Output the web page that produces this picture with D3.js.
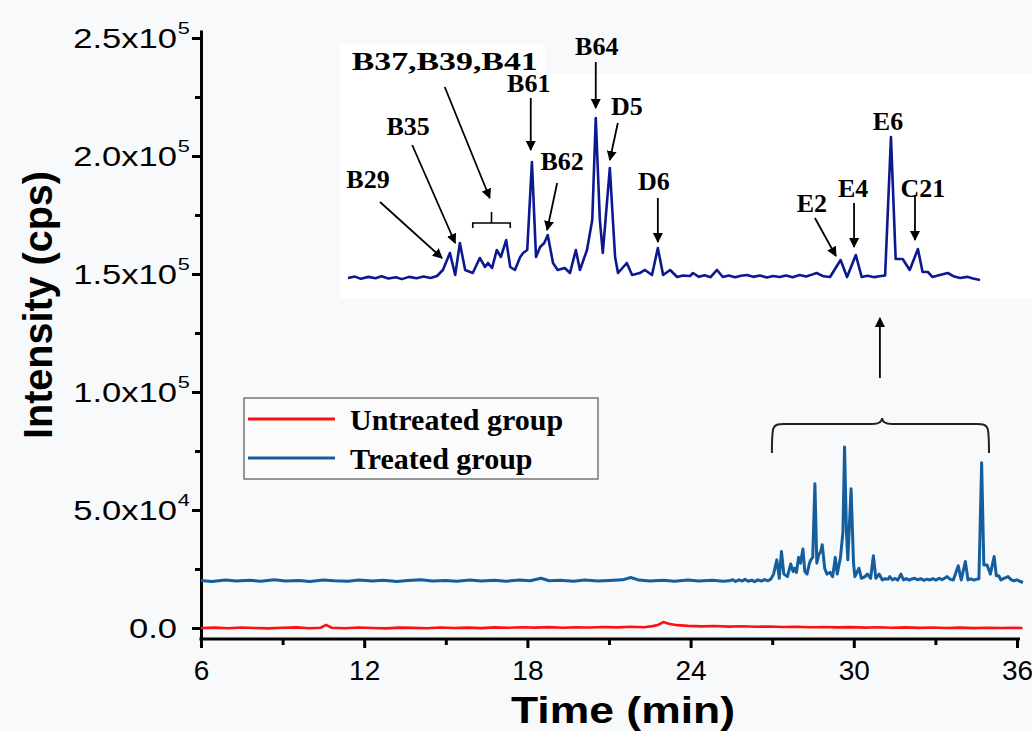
<!DOCTYPE html>
<html>
<head>
<meta charset="utf-8">
<script src="https://cdn.jsdelivr.net/npm/d3@7"></script>
<style>
  body { margin: 0; background: #f8f9fa; }
  svg { display: block; }
</style>
</head>
<body>
<div id="chart"></div>
<script>
var margin = {top: 30, right: 15, bottom: 92, left: 201};
var W = 1032, H = 731;

// treated group: retention time (min) and intensity (cps)
var treatedTime = [
  6.0, 6.4, 6.9, 7.3, 7.8, 8.2, 8.7, 9.1, 9.6, 10.0, 10.5, 10.9, 11.4, 11.8, 12.3,
  12.7, 13.2, 13.6, 14.1, 14.5, 15.0, 15.4, 15.9, 16.3, 16.8, 17.2, 17.7, 18.1, 18.5, 18.8,
  19.2, 19.7, 20.1, 20.6, 21.0, 21.5, 21.8, 22.1, 22.5, 23.0, 23.4, 23.9, 24.3, 24.8, 25.2,
  25.43, 25.55, 25.65, 25.78, 25.9, 26.0, 26.12, 26.25, 26.35, 26.47, 26.6, 26.72, 26.84,
  26.95, 27.05, 27.17, 27.26, 27.34, 27.43, 27.56, 27.68, 27.77, 27.82, 27.89,
  27.97, 28.04, 28.13, 28.20, 28.28, 28.37, 28.42, 28.49, 28.57, 28.64, 28.71, 28.78, 28.84, 28.93,
  29.01, 29.13, 29.22, 29.32, 29.39, 29.51, 29.60, 29.66, 29.73, 29.78, 29.90, 29.99, 30.04, 30.19,
  30.28, 30.41, 30.50, 30.62, 30.72, 30.81, 30.93, 31.05, 31.15, 31.27, 31.32, 31.42, 31.52, 31.62,
  31.73, 31.83, 31.93, 32.04, 32.14, 32.24, 32.35, 32.46, 32.58, 32.69, 32.80, 32.91, 33.02, 33.14,
  33.25, 33.35, 33.43, 33.55, 33.66, 33.84, 33.95, 34.10, 34.20, 34.30, 34.42, 34.50, 34.60, 34.70,
  34.78, 34.90, 35.02, 35.16, 35.24, 35.33, 35.41, 35.50, 35.67, 35.78, 35.88, 36.00, 36.10, 36.22
];
var treatedCps = [
  20100, 19700, 20300, 19900, 20200, 19800, 20400, 19900, 20100, 19700, 20300, 20000, 19800, 20300, 19900,
  20200, 19700, 20100, 20400, 19900, 20100, 19800, 20300, 19900, 20200, 19800, 20300, 20000, 21100, 20000,
  20200, 19800, 20300, 19900, 20100, 20400, 21400, 20300, 19900, 20200, 19800, 20300, 19900, 20200, 19800,
  20000, 20500, 19700, 20400, 19900, 20600, 19800, 20300, 19600, 20400, 19900, 20500, 20000,
  20700, 22840, 28870, 21060, 32410, 22840, 21770, 27090, 23900, 25320, 23550,
  29930, 27450, 33470, 23900, 22840, 27450, 28870, 29930, 61130, 27450, 30990, 32410, 35250, 25320,
  22840, 23550, 21770, 29930, 22840, 29930, 40570, 76740, 40570, 28870, 59010, 27450, 21770, 25320,
  21060, 21770, 22840, 21060, 30640, 21060, 22840, 20350, 20900, 20710, 21770, 20400, 21000, 20300,
  22840, 20350, 20900, 20300, 20800, 21060, 20400, 20900, 20200, 20700, 20350, 20900, 20300, 21060,
  20500, 21200, 21770, 20600, 20350, 26380, 20350, 28160, 20350, 20800, 20300, 20600, 20900, 70000,
  26740, 26740, 22840, 30280, 22130, 22130, 20350, 20900, 21770, 20500, 20000, 20400, 19800, 19290
];

// untreated group
var untreatedTime = [
  6.0, 6.5, 7.0, 7.5, 8.0, 8.5, 9.0, 9.5, 10.0, 10.4, 10.6, 10.8, 11.3, 11.8, 12.3,
  12.8, 13.3, 13.8, 14.3, 14.8, 15.3, 15.8, 16.3, 16.8, 17.3, 17.8, 18.3, 18.8, 19.3, 19.8,
  20.3, 20.8, 21.3, 21.8, 22.3, 22.6, 22.8, 23.0, 23.2, 23.5, 23.9, 24.4, 24.9, 25.4, 25.9,
  26.4, 26.9, 27.4, 27.9, 28.4, 28.9, 29.4, 29.9, 30.4, 30.9, 31.4, 31.9, 32.4, 32.9, 33.4,
  33.9, 34.4, 34.9, 35.4, 35.9, 36.2
];
var untreatedCps = [
  0, 150, -100, 200, 0, -150, 100, 250, -100, 100, 1300, 100, -100, 200, 0,
  -150, 150, 50, -100, 200, 0, 150, -50, 250, 100, 300, 150, 350, 100, 300,
  200, 450, 250, 500, 300, 800, 1300, 2500, 1800, 1200, 900, 700, 850, 600, 750,
  500, 650, 400, 550, 300, 450, 250, 350, 150, 300, 100, 250, 50, 200, 0,
  150, -50, 100, 0, 50, 0
];

var yMajor = [0, 50000, 100000, 150000, 200000, 250000];
var yMinor = [25000, 75000, 125000, 175000, 225000];
var xMajor = [6, 12, 18, 24, 30, 36];
var xMinor = [9, 15, 21, 27, 33];

// peak labels in the zoomed inset: tip of arrow (time, cps)
var peakNames = ["B29", "B35", "B37,B39,B41", "B61", "B62", "B64", "D5", "D6", "E2", "E4", "E6", "C21"];
var peakTime  = [27.035, 27.26, 27.85, 28.55, 28.83, 29.66, 29.90, 30.72, 33.76, 34.07, 34.70, 35.11];
var peakCps   = [27090, 32410, 48370, 65390, 37020, 80280, 61840, 32770, 27800, 30990, 70000, 33470];

var legendNames = ["Untreated group", "Treated group"];
var colors = { untreated: "#ff1010", treated: "#145e9e", inset: "#0c1890" };

var treated = treatedTime.map(function(t, i) { return {t: t, v: treatedCps[i]}; });
var untreated = untreatedTime.map(function(t, i) { return {t: t, v: untreatedCps[i]}; });

var svg = d3.select("#chart").append("svg")
  .attr("width", W).attr("height", H);

svg.append("rect").attr("width", W).attr("height", H).attr("fill", "#f8f9fa");

var x = d3.scaleLinear().domain([6, 36]).range([margin.left, 1017]);
var y = d3.scaleLinear().domain([-4661, 253400]).range([H - margin.bottom, margin.top]);

// inset scales (same data, zoomed)
var xi = d3.scaleLinear().domain([25.43, 36.22]).range([348, 980]);
var yi = d3.scaleLinear().domain([20000, 76740]).range([278, 118]);

// inset background
svg.append("rect")
  .attr("x", 340).attr("y", 74).attr("width", W - 340).attr("height", 224)
  .attr("fill", "#ffffff");
svg.append("rect")
  .attr("x", 340).attr("y", 44).attr("width", 205).attr("height", 32)
  .attr("fill", "#ffffff");

var axisFont = "'Liberation Sans', Arial, sans-serif";

// x axis
var xAxis = d3.axisBottom(x).tickValues(xMajor).tickSize(9).tickSizeOuter(0)
  .tickFormat(function(d) { return d; });
var gx = svg.append("g")
  .attr("transform", "translate(0," + y(-4661) + ")")
  .call(xAxis);
gx.select(".domain").attr("stroke-width", 3).attr("d", "M" + (x(6) - 1.5) + ",0H" + (x(36) + 3));
gx.selectAll(".tick line").attr("stroke-width", 3);
gx.selectAll(".tick text").attr("font-family", axisFont).attr("font-size", 28).attr("dy", "1.02em");
svg.append("g")
  .attr("transform", "translate(0," + y(-4661) + ")")
  .call(d3.axisBottom(x).tickValues(xMinor).tickSize(6).tickFormat(""))
  .call(function(g) { g.select(".domain").remove(); g.selectAll("line").attr("stroke-width", 3); });

// y axis
var yAxis = d3.axisLeft(y).tickValues(yMajor).tickSize(9).tickSizeOuter(0).tickFormat("");
var gy = svg.append("g")
  .attr("transform", "translate(" + margin.left + ",0)")
  .call(yAxis);
gy.select(".domain").attr("stroke-width", 3);
gy.selectAll(".tick line").attr("stroke-width", 3);
svg.append("g")
  .attr("transform", "translate(" + margin.left + ",0)")
  .call(d3.axisLeft(y).tickValues(yMinor).tickSize(6).tickFormat(""))
  .call(function(g) { g.select(".domain").remove(); g.selectAll("line").attr("stroke-width", 3); });

// tick labels are drawn wide, like the original export
gy.selectAll(".tick").each(function(d) {
  var g = d3.select(this).append("g").attr("transform", "translate(-24,0) scale(1.28,1)");
  var mant = g.append("text")
    .attr("dy", "0.36em")
    .attr("fill", "#000").attr("text-anchor", "end")
    .attr("font-family", axisFont).attr("font-size", 27);
  if (d === 0) { mant.text("0.0"); return; }
  var e = Math.floor(Math.log10(d));
  var m = d / Math.pow(10, e);
  mant.text(m.toFixed(1) + "x10");
  g.append("text").attr("x", 0.5).attr("y", -5)
    .attr("text-anchor", "start")
    .attr("fill", "#000").attr("font-family", axisFont).attr("font-size", 17)
    .text(e);
});

// axis titles
svg.append("text")
  .attr("transform", "translate(52,305) rotate(-90)")
  .attr("text-anchor", "middle")
  .attr("font-family", "'Liberation Sans', Arial, sans-serif")
  .attr("font-weight", "bold").attr("font-size", 40)
  .attr("textLength", 268).attr("lengthAdjust", "spacingAndGlyphs")
  .text("Intensity (cps)");

svg.append("text")
  .attr("x", 623).attr("y", 723)
  .attr("text-anchor", "middle")
  .attr("font-family", "'Liberation Sans', Arial, sans-serif")
  .attr("font-weight", "bold").attr("font-size", 37)
  .attr("textLength", 224).attr("lengthAdjust", "spacingAndGlyphs")
  .text("Time (min)");

// lines
var line = d3.line().x(function(d) { return x(d.t); }).y(function(d) { return y(d.v); });

svg.append("path").datum(untreated)
  .attr("fill", "none").attr("stroke", colors.untreated).attr("stroke-width", 2.6)
  .attr("d", line);

svg.append("path").datum(treated)
  .attr("fill", "none").attr("stroke", colors.treated).attr("stroke-width", 3)
  .attr("stroke-linejoin", "round")
  .attr("d", line);

// inset trace
var lineInset = d3.line().x(function(d) { return xi(d.t); }).y(function(d) { return yi(d.v); });
svg.append("path").datum(treated.filter(function(d) { return d.t >= 25.43; }))
  .attr("fill", "none").attr("stroke", colors.inset).attr("stroke-width", 2.6)
  .attr("stroke-linejoin", "round")
  .attr("d", lineInset);

// arrowhead
svg.append("defs").append("marker")
  .attr("id", "head").attr("viewBox", "0 0 10 10")
  .attr("refX", 9).attr("refY", 5)
  .attr("markerWidth", 10).attr("markerHeight", 10)
  .attr("markerUnits", "userSpaceOnUse")
  .attr("orient", "auto")
  .append("path").attr("d", "M0,0L10,5L0,10z").attr("fill", "#000");

// tail offsets and label offsets (pixels) per peak label
var tailOff = [[-62, -56], [-43, -98], [-45, -111], [0, -52], [10, -47], [0, -46], [8, -37], [0, -44], [-21, -38], [0, -44], null, [0, -45]];
var textOff = [[-12, -14], [-4, -10], [0, -17], [-2, -6], [5, -13], [1, -7], [9, -8], [-4, -8], [-3, -6], [-1, -6], [-3, -7], [8, 2]];

var serif = "'Liberation Serif', 'Times New Roman', serif";
peakNames.forEach(function(name, i) {
  var tx = xi(peakTime[i]), ty = yi(peakCps[i]);
  var ox, oy;
  if (tailOff[i]) {
    ox = tx + tailOff[i][0]; oy = ty + tailOff[i][1];
    svg.append("line")
      .attr("x1", ox).attr("y1", oy).attr("x2", tx).attr("y2", ty)
      .attr("stroke", "#000").attr("stroke-width", 1.8)
      .attr("marker-end", "url(#head)");
  } else {
    ox = tx; oy = ty;
  }
  var t = svg.append("text")
    .attr("x", ox + textOff[i][0]).attr("y", oy + textOff[i][1])
    .attr("text-anchor", "middle")
    .attr("font-family", serif).attr("font-weight", "bold").attr("font-size", 26)
    .text(name);
  if (name.length > 6) t.attr("textLength", 186).attr("lengthAdjust", "spacingAndGlyphs");
});

// small bracket under the B37,B39,B41 arrow
var bL = xi(27.56), bR = xi(28.20), bC = xi(27.88), bY = yi(20000) - 55;
svg.append("path")
  .attr("d", "M" + bL + "," + (bY + 5) + "V" + bY + "H" + bR + "V" + (bY + 5) + "M" + bC + "," + bY + "V" + (bY - 11))
  .attr("fill", "none").attr("stroke", "#000").attr("stroke-width", 1.6);

// curly brace over the main peak cluster and arrow up to the inset
var cL = x(26.99), cR = x(34.97), cM = x(31.04);
var cEnd = y(74150), cTop = y(86440), cTip = y(88980);
svg.append("path")
  .attr("d", "M" + cL + "," + cEnd + "C" + cL + "," + (cTop + 2) + " " + cL + "," + cTop + " " + (cL + 12) + "," + cTop +
    "H" + (cM - 10) + "C" + (cM - 3) + "," + cTop + " " + cM + "," + (cTop - 2) + " " + cM + "," + cTip +
    "C" + cM + "," + (cTop - 2) + " " + (cM + 3) + "," + cTop + " " + (cM + 10) + "," + cTop +
    "H" + (cR - 12) + "C" + cR + "," + cTop + " " + cR + "," + (cTop + 2) + " " + cR + "," + cEnd)
  .attr("fill", "none").attr("stroke", "#222").attr("stroke-width", 2);

svg.append("line")
  .attr("x1", x(30.96)).attr("y1", y(105930)).attr("x2", x(30.96)).attr("y2", y(131360))
  .attr("stroke", "#000").attr("stroke-width", 1.8)
  .attr("marker-end", "url(#head)");

// legend
var lg = svg.append("g").attr("transform", "translate(244,398)");
lg.append("rect").attr("width", 354).attr("height", 81)
  .attr("fill", "#fbfbfb").attr("stroke", "#555").attr("stroke-width", 1.2);
legendNames.forEach(function(name, i) {
  var yy = 21 + i * 39;
  lg.append("line").attr("x1", 4).attr("x2", 91).attr("y1", yy).attr("y2", yy)
    .attr("stroke", i === 0 ? colors.untreated : colors.treated).attr("stroke-width", 3);
  lg.append("text").attr("x", 106).attr("y", yy + 11)
    .attr("font-family", serif).attr("font-weight", "bold").attr("font-size", 30)
    .text(name);
});
</script>
</body>
</html>
